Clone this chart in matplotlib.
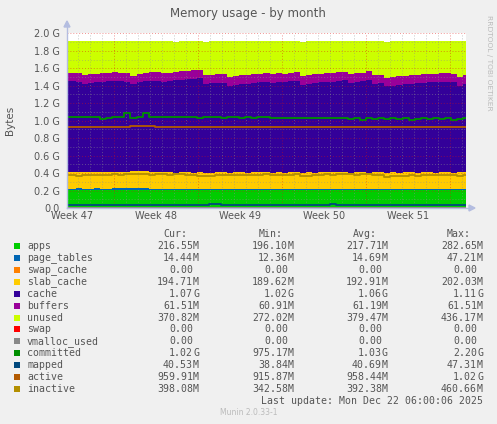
import numpy as np
import matplotlib
matplotlib.use("Agg")
import matplotlib.pyplot as plt
from matplotlib.patches import Rectangle, Polygon
from matplotlib.lines import Line2D

# ---- data (GiB), one sample roughly every half day ----
apps = [0.207, 0.207, 0.208, 0.207, 0.207, 0.208, 0.207, 0.207, 0.208, 0.207,
        0.208, 0.209, 0.208, 0.208, 0.207, 0.206, 0.204, 0.203, 0.203, 0.203,
        0.203, 0.203, 0.204, 0.203, 0.203, 0.203, 0.203, 0.203, 0.203, 0.203,
        0.203, 0.203, 0.203, 0.203, 0.203, 0.203, 0.203, 0.203, 0.203, 0.203,
        0.203, 0.203, 0.203, 0.203, 0.203, 0.203, 0.203, 0.203, 0.203, 0.203,
        0.203, 0.203, 0.203, 0.203, 0.203, 0.203, 0.203, 0.203, 0.203, 0.203,
        0.203, 0.203, 0.203, 0.203, 0.203, 0.203, 0.203]
page_tables = [0.016, 0.016, 0.017, 0.016, 0.016, 0.017, 0.016, 0.016, 0.016, 0.017,
               0.016, 0.017, 0.016, 0.016, 0.015, 0.014, 0.014, 0.014, 0.014, 0.014,
               0.014, 0.014, 0.014, 0.014, 0.014, 0.014, 0.014, 0.014, 0.014, 0.014,
               0.014, 0.014, 0.014, 0.014, 0.014, 0.014, 0.014, 0.014, 0.014, 0.014,
               0.014, 0.014, 0.014, 0.014, 0.014, 0.014, 0.014, 0.014, 0.014, 0.014,
               0.014, 0.014, 0.014, 0.014, 0.014, 0.014, 0.014, 0.014, 0.014, 0.014,
               0.014, 0.014, 0.014, 0.014, 0.014, 0.014, 0.014]
swap_cache = [0.0] * 67
slab_cache = [0.185, 0.185, 0.186, 0.185, 0.186, 0.186, 0.187, 0.186, 0.187, 0.188,
              0.188, 0.192, 0.195, 0.196, 0.194, 0.192, 0.190, 0.190, 0.189, 0.190,
              0.190, 0.189, 0.190, 0.188, 0.189, 0.190, 0.190, 0.189, 0.190, 0.190,
              0.189, 0.190, 0.190, 0.190, 0.189, 0.190, 0.189, 0.190, 0.190, 0.189,
              0.190, 0.189, 0.190, 0.190, 0.191, 0.190, 0.190, 0.189, 0.190, 0.190,
              0.189, 0.190, 0.190, 0.189, 0.190, 0.189, 0.190, 0.190, 0.189, 0.190,
              0.190, 0.189, 0.190, 0.190, 0.189, 0.190, 0.190]
cache = [1.045, 1.045, 1.035, 1.015, 1.025, 1.030, 1.035, 1.040, 1.045, 1.040,
         1.035, 1.000, 1.020, 1.030, 1.040, 1.045, 1.035, 1.045, 1.055, 1.060,
         1.065, 1.070, 1.075, 1.020, 1.020, 1.025, 1.025, 0.995, 1.005, 1.015,
         1.015, 1.025, 1.030, 1.035, 1.025, 1.040, 1.035, 1.045, 1.050, 1.005,
         1.015, 1.025, 1.030, 1.035, 1.040, 1.050, 1.055, 1.025, 1.035, 1.045,
         1.060, 1.015, 1.020, 0.985, 0.995, 1.005, 1.010, 1.015, 1.020, 1.025,
         1.030, 1.035, 1.035, 1.040, 1.035, 0.995, 1.015]
buffers = [0.097, 0.098, 0.098, 0.099, 0.098, 0.098, 0.097, 0.098, 0.098, 0.099,
           0.098, 0.098, 0.097, 0.098, 0.098, 0.099, 0.098, 0.098, 0.097, 0.098,
           0.098, 0.099, 0.098, 0.098, 0.098, 0.097, 0.098, 0.098, 0.099, 0.098,
           0.098, 0.098, 0.097, 0.098, 0.098, 0.099, 0.098, 0.098, 0.098, 0.097,
           0.098, 0.098, 0.099, 0.098, 0.098, 0.098, 0.097, 0.098, 0.098, 0.099,
           0.098, 0.098, 0.098, 0.097, 0.098, 0.098, 0.099, 0.098, 0.098, 0.098,
           0.097, 0.098, 0.098, 0.099, 0.098, 0.098, 0.098]
unused = [0.358, 0.358, 0.368, 0.388, 0.378, 0.373, 0.368, 0.363, 0.358, 0.363,
          0.368, 0.398, 0.378, 0.368, 0.363, 0.358, 0.368, 0.358, 0.348, 0.343,
          0.338, 0.333, 0.328, 0.383, 0.383, 0.378, 0.378, 0.408, 0.398, 0.388,
          0.388, 0.378, 0.373, 0.368, 0.378, 0.363, 0.368, 0.358, 0.353, 0.398,
          0.388, 0.378, 0.373, 0.368, 0.363, 0.353, 0.348, 0.378, 0.368, 0.358,
          0.343, 0.388, 0.383, 0.418, 0.408, 0.398, 0.393, 0.388, 0.383, 0.378,
          0.373, 0.368, 0.368, 0.363, 0.368, 0.408, 0.388]

swap = [0.0] * 67
vmalloc_used = [0.0] * 67
committed = [1.045, 1.045, 1.040, 1.045, 1.040, 1.040, 1.020, 1.030, 1.040, 1.040,
             1.090, 1.035, 1.045, 1.090, 1.040, 1.045, 1.040, 1.045, 1.040, 1.045,
             1.040, 1.040, 1.035, 1.045, 1.040, 1.040, 1.035, 1.040, 1.040, 1.035,
             1.040, 1.035, 1.040, 1.040, 1.030, 1.035, 1.030, 1.035, 1.030, 1.025,
             1.030, 1.025, 1.030, 1.035, 1.025, 1.030, 1.025, 1.020, 1.025, 1.010,
             1.025, 1.020, 1.025, 1.020, 1.030, 1.020, 1.025, 1.005, 1.020, 1.025,
             1.020, 1.025, 1.020, 1.025, 1.005, 1.020, 1.025]
mapped = [0.035, 0.035, 0.035, 0.035, 0.035, 0.035, 0.035, 0.035, 0.035, 0.035,
          0.036, 0.035, 0.035, 0.035, 0.035, 0.035, 0.035, 0.035, 0.035, 0.035,
          0.035, 0.035, 0.035, 0.035, 0.042, 0.044, 0.040, 0.035, 0.035, 0.035,
          0.035, 0.035, 0.035, 0.035, 0.035, 0.035, 0.035, 0.035, 0.035, 0.035,
          0.035, 0.035, 0.035, 0.035, 0.043, 0.035, 0.035, 0.035, 0.035, 0.035,
          0.035, 0.035, 0.035, 0.035, 0.035, 0.035, 0.035, 0.035, 0.035, 0.035,
          0.035, 0.035, 0.035, 0.035, 0.035, 0.035, 0.035]
active = [0.930, 0.930, 0.930, 0.930, 0.930, 0.930, 0.930, 0.930, 0.930, 0.930,
          0.930, 0.940, 0.943, 0.943, 0.940, 0.933, 0.930, 0.928, 0.930, 0.930,
          0.930, 0.930, 0.930, 0.930, 0.930, 0.930, 0.930, 0.930, 0.930, 0.930,
          0.930, 0.930, 0.930, 0.930, 0.925, 0.926, 0.930, 0.930, 0.930, 0.930,
          0.930, 0.930, 0.930, 0.930, 0.930, 0.930, 0.930, 0.930, 0.930, 0.930,
          0.926, 0.925, 0.926, 0.925, 0.930, 0.930, 0.930, 0.930, 0.930, 0.930,
          0.930, 0.930, 0.930, 0.930, 0.930, 0.930, 0.930]
inactive = [0.375, 0.378, 0.372, 0.375, 0.378, 0.380, 0.376, 0.382, 0.385, 0.380,
            0.388, 0.384, 0.390, 0.386, 0.382, 0.385, 0.388, 0.383, 0.386, 0.384,
            0.380, 0.382, 0.362, 0.368, 0.372, 0.375, 0.378, 0.376, 0.380, 0.382,
            0.378, 0.382, 0.380, 0.384, 0.381, 0.383, 0.380, 0.382, 0.384, 0.370,
            0.372, 0.378, 0.382, 0.385, 0.380, 0.386, 0.384, 0.388, 0.382, 0.386,
            0.385, 0.380, 0.378, 0.360, 0.364, 0.368, 0.370, 0.374, 0.372, 0.376,
            0.380, 0.378, 0.382, 0.380, 0.376, 0.368, 0.378]

week_labels = ["Week 47", "Week 48", "Week 49", "Week 50", "Week 51"]
y_labels = ["0.0", "0.2 G", "0.4 G", "0.6 G", "0.8 G", "1.0 G",
            "1.2 G", "1.4 G", "1.6 G", "1.8 G", "2.0 G"]

names = ["apps", "page_tables", "swap_cache", "slab_cache", "cache", "buffers",
         "unused", "swap", "vmalloc_used", "committed", "mapped", "active", "inactive"]
colors = ["#00cc00", "#0066b3", "#ff8000", "#ffcc00", "#330099", "#990099",
          "#ccff00", "#ff0000", "#888888", "#008f00", "#00487d", "#b35a00", "#b38f00"]
cur = ["216.55M", "14.44M", "0.00", "194.71M", "1.07G", "61.51M", "370.82M",
       "0.00", "0.00", "1.02G", "40.53M", "959.91M", "398.08M"]
mins = ["196.10M", "12.36M", "0.00", "189.62M", "1.02G", "60.91M", "272.02M",
        "0.00", "0.00", "975.17M", "38.84M", "915.87M", "342.58M"]
avgs = ["217.71M", "14.69M", "0.00", "192.91M", "1.06G", "61.19M", "379.47M",
        "0.00", "0.00", "1.03G", "40.69M", "958.44M", "392.38M"]
maxs = ["282.65M", "47.21M", "0.00", "202.03M", "1.11G", "61.51M", "436.17M",
        "0.00", "0.00", "2.20G", "47.31M", "1.02G", "460.66M"]

W, H = 497, 424
BG = "#f0f0f0"
TXT = "#555555"


def fx(x):
    return x / W


def fy(y):
    return 1 - y / H


fig = plt.figure(figsize=(W / 100, H / 100), dpi=100, facecolor=BG)
x0, x1, ytop, ybot = 67, 466, 33.3, 208
ax = fig.add_axes([fx(x0), fy(ybot), (x1 - x0) / W, (ybot - ytop) / H])
ax.set_facecolor("white")

span = (x1 - x0) / 12.0  # days shown, 12 px per day
days = np.linspace(0, span, len(apps))

# stacked areas
stack = [apps, page_tables, swap_cache, slab_cache, cache, buffers, unused]
base = np.zeros(len(apps))
for vals, c in zip(stack, colors[:7]):
    top = base + np.array(vals)
    ax.fill_between(days, base, top, step="mid", color=c, lw=0, zorder=1)
    base = top

# lines
lines = [swap, vmalloc_used, committed, mapped, active, inactive]
for vals, c in zip(lines, colors[7:]):
    ax.plot(days, vals, drawstyle="steps-mid", color=c, lw=1.3, zorder=3)

ax.set_xlim(0, span)
ax.set_ylim(0, 2.0)

# grid (rrdtool style dotted)
first_major = (114 - x0) / 12.0
d = first_major - 3
while d < span:
    is_major = abs(((d - first_major) / 7.0) - round((d - first_major) / 7.0)) < 1e-6
    ax.axvline(d, color="#de0f0f" if is_major else "#8f8f8f",
               alpha=0.45 if is_major else 0.5, lw=0.7, ls=(0, (1, 2)), zorder=2)
    d += 1
for i in range(1, 21):
    v = i * 0.1
    major = i % 2 == 0
    ax.axhline(v, color="#de0f0f" if major else "#8f8f8f",
               alpha=0.45 if major else 0.5, lw=0.7, ls=(0, (1, 2)), zorder=2)

ax.set_yticks(np.arange(0, 2.01, 0.2))
ax.set_yticklabels(y_labels)
ax.set_xticks([first_major - 3.5 + 7 * k for k in range(len(week_labels))])
ax.set_xticklabels(week_labels)
ax.tick_params(length=0, labelsize=7, labelcolor=TXT)
ax.tick_params(axis="y", pad=5)
ax.tick_params(axis="x", pad=2.5)
for s in ax.spines.values():
    s.set_visible(False)

# axis lines with arrows
axc = "#b4bde0"
fig.add_artist(Line2D([fx(x0), fx(x0)], [fy(ybot), fy(26)], color=axc, lw=1))
fig.add_artist(Line2D([fx(x0), fx(470)], [fy(ybot), fy(ybot)], color=axc, lw=1))
fig.add_artist(Polygon([[fx(64), fy(27)], [fx(70), fy(27)], [fx(67), fy(21)]],
                       closed=True, color=axc))
fig.add_artist(Polygon([[fx(469), fy(205)], [fx(469), fy(211)], [fx(475), fy(208)]],
                       closed=True, color=axc))

# texts around plot
fig.text(fx(248), fy(13), "Memory usage - by month", ha="center", va="center",
         fontsize=8.5, color=TXT)
fig.text(fx(10), fy(120), "Bytes", ha="center", va="center", rotation=90,
         fontsize=7.5, color=TXT)
fig.text(fx(489), fy(63), "RRDTOOL / TOBI OETIKER", ha="center", va="center",
         rotation=270, fontsize=5.4, color="#bbbbbb")

# legend
mono = "DejaVu Sans Mono"
fs = 7.15
row0, step = 245.7, 11.97
col_edges = [193, 288, 382, 477]
headers = [("Cur:", 163), ("Min:", 259), ("Avg:", 353), ("Max:", 447)]
for h, hx in headers:
    fig.text(fx(hx), fy(234), h, ha="left", va="center", family=mono, fontsize=fs, color=TXT)

for i, name in enumerate(names):
    y = row0 + i * step
    fig.add_artist(Rectangle((fx(14), fy(y + 3)), 6 / W, 6 / H, facecolor=colors[i],
                             edgecolor="none", transform=fig.transFigure))
    fig.text(fx(27), fy(y), name, ha="left", va="center", family=mono, fontsize=fs, color=TXT)
    for col, edge in zip([cur, mins, avgs, maxs], col_edges):
        s = col[i]
        num, suf = (s[:-1], s[-1]) if s[-1] in "MG" else (s, "")
        fig.text(fx(edge), fy(y), num, ha="right", va="center", family=mono,
                 fontsize=fs, color=TXT)
        if suf:
            fig.text(fx(edge), fy(y), suf, ha="left", va="center", family=mono,
                     fontsize=fs, color=TXT)

fig.text(fx(483), fy(401), "Last update: Mon Dec 22 06:00:06 2025", ha="right",
         va="center", family=mono, fontsize=fs, color=TXT)
fig.text(fx(248.5), fy(412.5), "Munin 2.0.33-1", ha="center", va="center",
         fontsize=5.5, color="#bbbbbb")

fig.savefig("out.png", dpi=100, facecolor=BG)
